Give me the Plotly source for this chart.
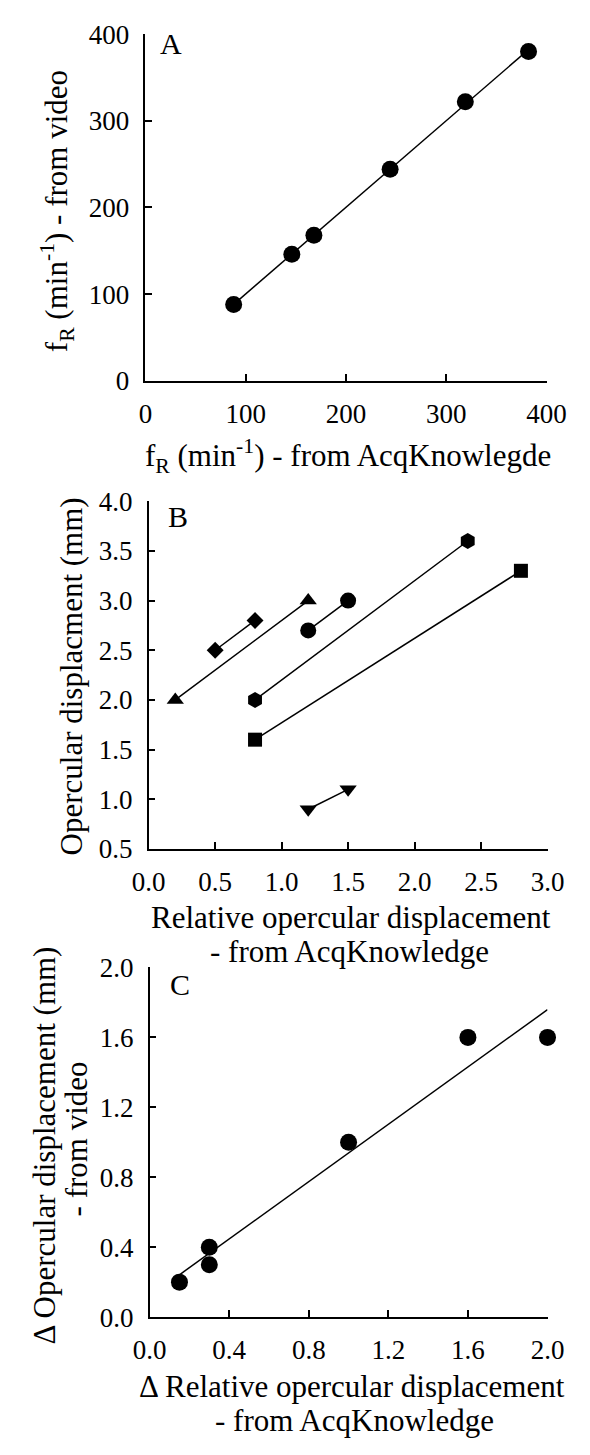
import numpy as np
import plotly.graph_objects as go

# ---------------- data ----------------
# Panel A: respiratory frequency, AcqKnowledge vs video
a_acq = [88, 146, 168, 244, 319, 382]
a_video = [88, 146, 168, 244, 322, 380]

# Panel B: opercular displacement per fish (two recordings each)
b_series = {
    "triangle-up": ([0.2, 1.2], [2.0, 3.0]),
    "diamond": ([0.5, 0.8], [2.5, 2.8]),
    "circle": ([1.2, 1.5], [2.7, 3.0]),
    "hexagon": ([0.8, 2.4], [2.0, 3.6]),
    "square": ([0.8, 2.8], [1.6, 3.3]),
    "triangle-down": ([1.2, 1.5], [0.9, 1.1]),
}
b_sizes = {"triangle-up": 15, "diamond": 13, "circle": 16,
           "hexagon": 16, "square": 14, "triangle-down": 15}

# Panel C: change in opercular displacement
c_acq = [0.15, 0.3, 0.3, 1.0, 1.6, 2.0]
c_video = [0.2, 0.4, 0.3, 1.0, 1.6, 1.6]

# tick values
a_ticks = [0, 100, 200, 300, 400]
b_xticks = [0.0, 0.5, 1.0, 1.5, 2.0, 2.5, 3.0]
b_yticks = [0.5, 1.0, 1.5, 2.0, 2.5, 3.0, 3.5, 4.0]
c_ticks = [0.0, 0.4, 0.8, 1.2, 1.6, 2.0]

# ---------------- layout helpers ----------------
W, H = 590, 1455
FONT = "Liberation Serif, Times New Roman, serif"


def px_x(v):
    return v / W


def px_y(v):
    return 1 - v / H


fig = go.Figure()

# panel boxes in pixels: (left, right, top, bottom)
boxes = {
    "A": (137, 565, 19.5, 373.5),
    "B": (140.5, 566, 496.5, 851.5),
    "C": (141.5, 566, 972.5, 1329.5),
}

axis_common = dict(
    showline=True, linecolor="black", linewidth=1.5,
    ticks="inside", ticklen=7, tickwidth=1.5, tickcolor="black",
    showgrid=False, zeroline=False,
    tickfont=dict(family=FONT, size=27, color="black"),
)

names = ["A", "B", "C"]
ranges = {
    "A": ([0, 400], [0, 400], a_ticks, a_ticks, None, None),
    "B": ([0, 3.0], [0.5, 4.0], b_xticks, b_yticks, ".1f", ".1f"),
    "C": ([0, 2.0], [0, 2.0], c_ticks, c_ticks, ".1f", ".1f"),
}

for i, name in enumerate(names):
    l, r, t, b = boxes[name]
    xr, yr, xt, yt, xf, yf = ranges[name]
    sfx = "" if i == 0 else str(i + 1)
    xa = dict(axis_common, domain=[px_x(l), px_x(r)], range=xr, tickvals=xt,
              anchor="y" + sfx, ticklabelstandoff=8)
    ya = dict(axis_common, domain=[px_y(b), px_y(t)], range=yr, tickvals=yt,
              anchor="x" + sfx, ticklabelstandoff=9)
    if xf:
        xa["tickformat"] = xf
    if yf:
        ya["tickformat"] = yf
    fig.update_layout({"xaxis" + sfx: xa, "yaxis" + sfx: ya})

line_style = dict(color="black", width=1.5)

# Panel A: points and regression line
fa = np.polyfit(a_acq, a_video, 1)
ax_line = np.array([min(a_acq), max(a_acq)])
fig.add_trace(go.Scatter(x=ax_line, y=np.polyval(fa, ax_line), mode="lines",
                         line=line_style, xaxis="x", yaxis="y", cliponaxis=False))
fig.add_trace(go.Scatter(x=a_acq, y=a_video, mode="markers",
                         marker=dict(symbol="circle", size=17, color="black"),
                         xaxis="x", yaxis="y", cliponaxis=False))

# Panel B: paired recordings joined by lines
for sym, (xs, ys) in b_series.items():
    fig.add_trace(go.Scatter(x=xs, y=ys, mode="lines+markers", line=line_style,
                             marker=dict(symbol=sym, size=b_sizes[sym], color="black"),
                             xaxis="x2", yaxis="y2", cliponaxis=False))

# Panel C: points and regression line
fc = np.polyfit(c_acq, c_video, 1)
cx_line = np.array([min(c_acq), max(c_acq)])
fig.add_trace(go.Scatter(x=cx_line, y=np.polyval(fc, cx_line), mode="lines",
                         line=line_style, xaxis="x3", yaxis="y3", cliponaxis=False))
fig.add_trace(go.Scatter(x=c_acq, y=c_video, mode="markers",
                         marker=dict(symbol="circle", size=17, color="black"),
                         xaxis="x3", yaxis="y3", cliponaxis=False))


def label(text, x, y, size=31, angle=0):
    fig.add_annotation(text=text, x=px_x(x), y=px_y(y), xref="paper", yref="paper",
                       xanchor="center", yanchor="middle", showarrow=False,
                       textangle=angle, font=dict(family=FONT, size=size, color="black"))


# panel letters
label("A", 164, 29, size=30)
label("B", 172, 512, size=30)
label("C", 174, 990, size=30)

# axis titles
label("f<sub>R</sub> (min<sup>-1</sup>) - from AcqKnowlegde", 353, 450)
label("f<sub>R</sub> (min<sup>-1</sup>) - from video", 43, 200, angle=-90)

label("Relative opercular displacement", 356, 922)
label("- from AcqKnowledge", 355, 956)
label("Opercular displacment (mm)", 58, 675, angle=-90)

label("\u0394 Relative opercular displacement", 357, 1400)
label("- from AcqKnowledge", 360, 1435)
label("\u0394 Opercular displacement (mm)", 29, 1154, angle=-90)
label("- from video", 63, 1148, angle=-90)

fig.update_layout(
    width=W, height=H, margin=dict(l=0, r=0, t=0, b=0),
    paper_bgcolor="white", plot_bgcolor="white", showlegend=False,
)

fig.write_html("out.html")
